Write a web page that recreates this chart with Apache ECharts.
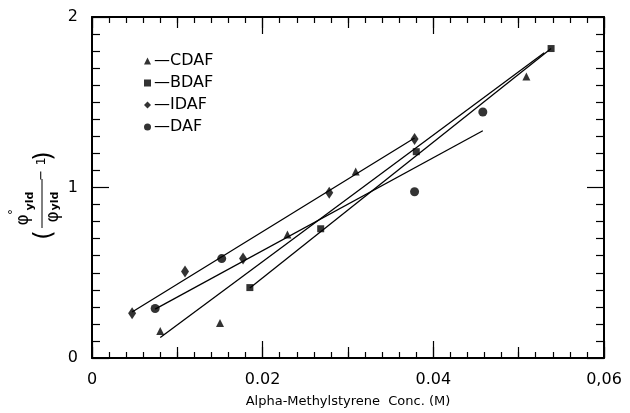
<!DOCTYPE html>
<html>
<head>
<meta charset="utf-8">
<script src="https://cdn.jsdelivr.net/npm/echarts@6/dist/echarts.min.js"></script>
<style>
  html, body { margin: 0; padding: 0; background: #fff; }
  #chart { width: 630px; height: 413px; }
</style>
</head>
<body>
<div id="chart"></div>
<script>
// measured points (x = Alpha-Methylstyrene conc, y = phi°/phi - 1)
const cdafX = [0.0080, 0.0150, 0.0229, 0.0309, 0.0509];
const cdafY = [0.158, 0.205, 0.725, 1.094, 1.651];
const bdafX = [0.0185, 0.0268, 0.0380, 0.0538];
const bdafY = [0.413, 0.758, 1.210, 1.815];
const idafX = [0.0047, 0.0109, 0.0177, 0.0278, 0.0378];
const idafY = [0.263, 0.507, 0.583, 0.969, 1.285];
const dafX = [0.0074, 0.0152, 0.0378, 0.0458];
const dafY = [0.290, 0.583, 0.975, 1.443];

// fitted straight lines, end points
const cdafFitX = [0.0080, 0.0530];
const cdafFitY = [0.120, 1.790];
const bdafFitX = [0.0185, 0.0538];
const bdafFitY = [0.410, 1.815];
const idafFitX = [0.0047, 0.0378];
const idafFitY = [0.270, 1.290];
const dafFitX = [0.0074, 0.0458];
const dafFitY = [0.287, 1.333];

const xTickLabels = ['0', '0.02', '0.04', '0,06'];
const yTickLabels = ['0', '1', '2'];
const seriesNames = ['CDAF', 'BDAF', 'IDAF', 'DAF'];

const zip = (xs, ys) => xs.map((x, i) => [x, ys[i]]);
const FONT = 'DejaVu Sans';

const chart = echarts.init(document.getElementById('chart'));

function xAxisDef(pos, interval, tickLen, withMinor, withLine, withLabel) {
  return {
    type: 'value', position: pos, min: 0, max: 0.06, interval: interval,
    axisLine: { show: withLine, onZero: false, lineStyle: { color: '#000', width: 2 } },
    axisTick: { show: true, inside: true, length: tickLen, lineStyle: { color: '#000', width: 1.2 } },
    minorTick: { show: withMinor, splitNumber: 10, length: 6, lineStyle: { color: '#000', width: 1.2 } },
    splitLine: { show: false },
    axisLabel: {
      show: withLabel, margin: 14, color: '#000', fontFamily: FONT, fontSize: 16,
      formatter: function (v) { return xTickLabels[Math.round(v / 0.02)]; }
    }
  };
}

function yAxisDef(pos, withLabel) {
  return {
    type: 'value', position: pos, min: 0, max: 2, interval: 1,
    axisLine: { show: true, onZero: false, lineStyle: { color: '#000', width: 2 } },
    axisTick: { show: true, inside: true, length: 17, lineStyle: { color: '#000', width: 1.2 } },
    minorTick: { show: true, splitNumber: 10, length: 8, lineStyle: { color: '#000', width: 1.2 } },
    splitLine: { show: false },
    axisLabel: {
      show: withLabel, margin: 14, color: '#000', fontFamily: FONT, fontSize: 16,
      formatter: function (v) { return yTickLabels[Math.round(v)]; }
    }
  };
}

const bottomAxis = xAxisDef('bottom', 0.02, 17, true, true, true);
bottomAxis.name = 'Alpha-Methylstyrene  Conc. (M)';
bottomAxis.nameLocation = 'middle';
bottomAxis.nameGap = 37;
bottomAxis.nameTextStyle = { color: '#000', fontFamily: FONT, fontSize: 13 };

function scatter(name, xs, ys, symbol, size) {
  return {
    name: name, type: 'scatter', data: zip(xs, ys),
    symbol: symbol, symbolSize: size,
    itemStyle: { color: '#000' }, z: 3
  };
}
function fit(xs, ys) {
  return {
    type: 'line', data: zip(xs, ys), symbol: 'none', silent: true,
    lineStyle: { color: '#000', width: 1.3 }, z: 2
  };
}

chart.setOption({
  backgroundColor: '#fff',
  animation: false,
  grid: { left: 92, right: 26, top: 17, bottom: 54 },
  xAxis: [
    bottomAxis,
    xAxisDef('bottom', 0.01, 11, false, false, false),
    xAxisDef('top', 0.02, 17, true, true, false),
    xAxisDef('top', 0.01, 11, false, false, false)
  ],
  yAxis: [yAxisDef('left', true), yAxisDef('right', false)],
  legend: {
    orient: 'vertical', left: 139, top: 48, itemGap: 6,
    itemWidth: 7, itemHeight: 7,
    data: [
      { name: 'CDAF', icon: 'triangle' },
      { name: 'BDAF', icon: 'rect' },
      { name: 'IDAF', icon: 'diamond' },
      { name: 'DAF', icon: 'circle' }
    ],
    formatter: function (n) { return '\u2014' + n; },
    textStyle: { color: '#000', fontFamily: FONT, fontSize: 16, padding: [0, 0, 0, -2] }
  },
  graphic: [{
    type: 'group', x: 40, y: 195, rotation: Math.PI / 2,
    children: [
      { type: 'text', style: { text: '(', x: -40, y: 5, align: 'center', verticalAlign: 'middle', font: '24px "DejaVu Sans"', fill: '#000' } },
      { type: 'text', style: { text: '\u03c6', x: -25, y: -16, align: 'center', verticalAlign: 'middle', font: '17px "DejaVu Sans"', fill: '#000' } },
      { type: 'text', style: { text: '\u00b0', x: -17, y: -26, align: 'center', verticalAlign: 'middle', font: '12px "DejaVu Sans"', fill: '#000' } },
      { type: 'text', style: { text: 'yld', x: -6, y: -10, align: 'center', verticalAlign: 'middle', font: 'bold 11px "DejaVu Sans"', fill: '#000' } },
      { type: 'line', shape: { x1: -33, y1: 2, x2: 16, y2: 2 }, style: { stroke: '#000', lineWidth: 1 } },
      { type: 'text', style: { text: '\u03c6', x: -22, y: 14, align: 'center', verticalAlign: 'middle', font: '17px "DejaVu Sans"', fill: '#000' } },
      { type: 'text', style: { text: 'yld', x: -6, y: 15, align: 'center', verticalAlign: 'middle', font: 'bold 11px "DejaVu Sans"', fill: '#000' } },
      { type: 'text', style: { text: '\u2212 1', x: 26, y: 2, align: 'center', verticalAlign: 'middle', font: '13px "DejaVu Sans"', fill: '#000' } },
      { type: 'text', style: { text: ')', x: 39, y: 5, align: 'center', verticalAlign: 'middle', font: '24px "DejaVu Sans"', fill: '#000' } }
    ]
  }],
  series: [
    scatter(seriesNames[0], cdafX, cdafY, 'triangle', 8),
    scatter(seriesNames[1], bdafX, bdafY, 'rect', 7),
    scatter(seriesNames[2], idafX, idafY, 'diamond', [8, 12]),
    scatter(seriesNames[3], dafX, dafY, 'circle', 9),
    fit(cdafFitX, cdafFitY),
    fit(bdafFitX, bdafFitY),
    fit(idafFitX, idafFitY),
    fit(dafFitX, dafFitY)
  ]
});
</script>
</body>
</html>
